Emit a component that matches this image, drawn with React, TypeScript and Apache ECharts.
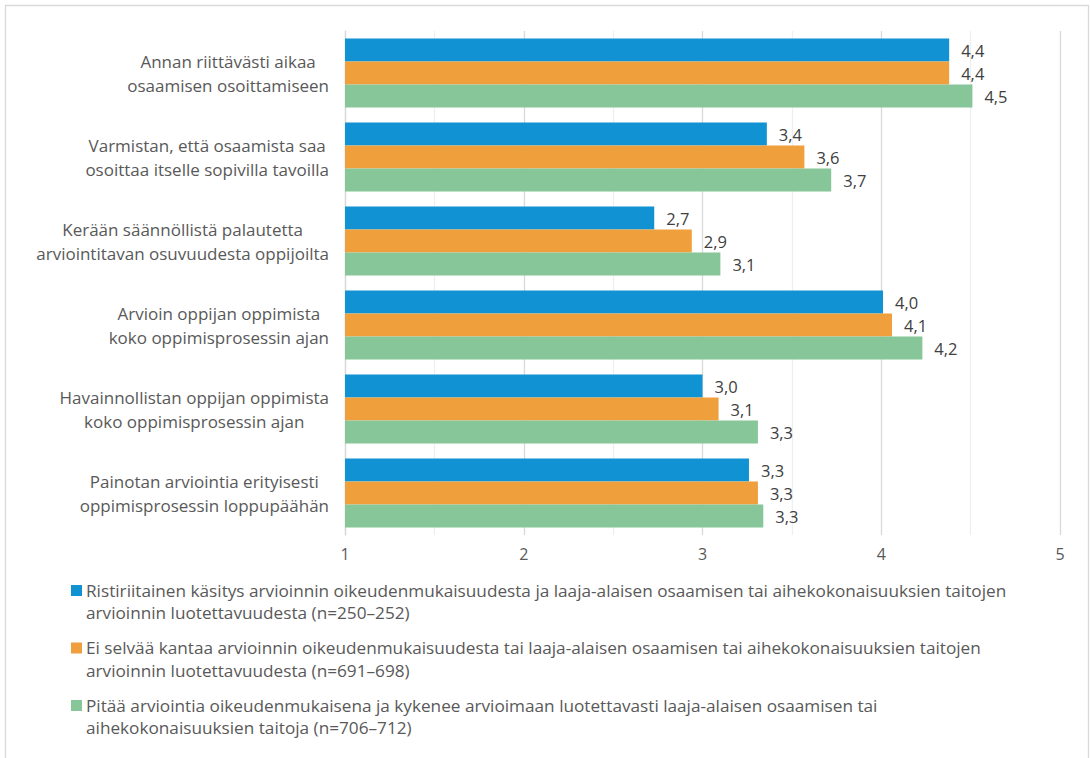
import React, { useEffect, useRef } from "react";
import * as echarts from "echarts";

const categories: string[] = [
  "Annan riittävästi aikaa\nosaamisen osoittamiseen",
  "Varmistan, että osaamista saa\nosoittaa itselle sopivilla tavoilla",
  "Kerään säännöllistä palautetta\narviointitavan osuvuudesta oppijoilta",
  "Arvioin oppijan oppimista\nkoko oppimisprosessin ajan",
  "Havainnollistan oppijan oppimista\nkoko oppimisprosessin ajan",
  "Painotan arviointia erityisesti\noppimisprosessin loppupäähän",
];

const seriesNames: string[] = [
  "Ristiriitainen käsitys arvioinnin oikeudenmukaisuudesta ja laaja-alaisen osaamisen tai aihekokonaisuuksien taitojen\narvioinnin luotettavuudesta (n=250–252)",
  "Ei selvää kantaa arvioinnin oikeudenmukaisuudesta tai laaja-alaisen osaamisen tai aihekokonaisuuksien taitojen\narvioinnin luotettavuudesta (n=691–698)",
  "Pitää arviointia oikeudenmukaisena ja kykenee arvioimaan luotettavasti laaja-alaisen osaamisen tai\naihekokonaisuuksien taitoja (n=706–712)",
];

const ristiriitainen: number[] = [4.38, 3.36, 2.73, 4.01, 3.0, 3.26];
const eiKantaa: number[] = [4.38, 3.57, 2.94, 4.06, 3.09, 3.31];
const pitaa: number[] = [4.51, 3.72, 3.1, 4.23, 3.31, 3.34];

const xTicks: number[] = [1, 2, 3, 4, 5];

const colors = ["#1192D3", "#EF9F3B", "#86C699"];
const FONT = "Open Sans";

export default function App() {
  const ref = useRef<HTMLDivElement>(null);
  useEffect(() => {
    document.body.style.margin = "0";
    if (!ref.current) return;
    const chart = echarts.init(ref.current, null, { renderer: "svg" });
    const values = [ristiriitainen, eiKantaa, pitaa];
    const legendGraphics: any[] = [];
    const legendTop = 580;
    seriesNames.forEach((name, i) => {
      const y = legendTop + i * 57.5;
      legendGraphics.push({
        type: "rect",
        shape: { x: 71, y: y + 5, width: 11, height: 11 },
        style: { fill: colors[i] },
      });
      legendGraphics.push({
        type: "text",
        x: 86,
        y: y - 1,
        style: {
          text: name,
          font: `17.2px '${FONT}'`,
          fill: "#595959",
          lineHeight: 22.5,
          textVerticalAlign: "top",
        },
      });
    });
    chart.setOption({
      animation: false,
      backgroundColor: "#ffffff",
      textStyle: { fontFamily: FONT },
      grid: { left: 345, right: 30, top: 31, bottom: 223, containLabel: false },
      xAxis: {
        type: "value",
        min: xTicks[0],
        max: xTicks[xTicks.length - 1],
        interval: 1,
        axisLine: { show: false },
        axisTick: { show: false },
        axisLabel: { color: "#595959", fontSize: 16, margin: 11, fontFamily: FONT },
        splitLine: { show: true, lineStyle: { color: "#d9d9d9", width: 1.3 } },
        minorTick: { show: false, splitNumber: 2 },
        minorSplitLine: { show: true, lineStyle: { color: "#efefef", width: 1.3 } },
      },
      yAxis: {
        type: "category",
        inverse: true,
        data: categories,
        axisLine: { show: true, lineStyle: { color: "#d9d9d9", width: 1.3 } },
        axisTick: { show: false },
        axisLabel: {
          margin: 16,
          formatter: (v: string) =>
            v
              .split("\n")
              .map((l) => `{a|${l}}`)
              .join("\n"),
          rich: {
            a: {
              color: "#595959",
              fontSize: 17,
              fontFamily: FONT,
              lineHeight: 24,
              align: "center",
            },
          },
        },
      },
      series: values.map((vals, i) => ({
        name: seriesNames[i],
        type: "bar",
        data: vals,
        barWidth: 23,
        barGap: "0%",
        itemStyle: { color: colors[i] },
        label: {
          show: true,
          position: "right",
          distance: 12,
          color: "#404040",
          fontSize: 16.5,
          fontFamily: FONT,
          formatter: (p: any) => p.value.toFixed(1).replace(".", ","),
        },
      })),
      graphic: [
        {
          type: "rect",
          shape: { x: 5.5, y: 5.5, width: 1083, height: 820 },
          style: { fill: "none", stroke: "#d9d9d9", lineWidth: 1.3 },
          silent: true,
        },
        ...legendGraphics,
      ],
    });
    return () => chart.dispose();
  }, []);
  return <div ref={ref} style={{ width: 1090, height: 758 }} />;
}
